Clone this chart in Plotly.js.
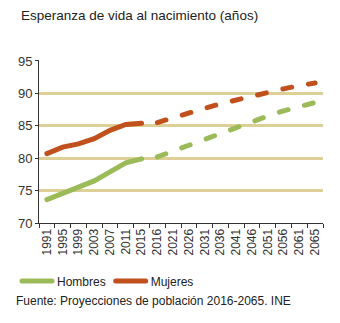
<!DOCTYPE html>
<html>
<head>
<meta charset="utf-8">
<script src="https://cdn.plot.ly/plotly-3.0.1.min.js"></script>
<style>
html,body{margin:0;padding:0;background:#fff;}
#chart{width:340px;height:323px;}
</style>
</head>
<body>
<div id="chart"></div>
<script>
// Categories (x axis)
const years = ["1991","1995","1999","2003","2007","2011","2015","2016","2021","2026","2031","2036","2041","2046","2051","2056","2061","2065"];
const histYears = ["1991","1995","1999","2003","2007","2011","2015"];
const projYears = ["2016","2021","2026","2031","2036","2041","2046","2051","2056","2061","2065"];

// Life expectancy at birth (years)
const hombresHist = [73.6, 74.5, 75.4, 76.5, 77.9, 79.3, 79.9];
const mujeresHist = [80.7, 81.7, 82.2, 83.0, 84.3, 85.2, 85.4];
const hombresProj = [80.2, 81.1, 82.1, 83.1, 84.0, 84.9, 85.7, 86.5, 87.3, 88.0, 88.6];
const mujeresProj = [85.5, 86.3, 87.0, 87.7, 88.4, 89.0, 89.6, 90.2, 90.7, 91.2, 91.6];

const cGreen = "#9bbb59";
const cRed = "#c0501c";
const dashPat = "9px,17px";

const traces = [
  {x: histYears, y: hombresHist, name: "Hombres", type: "scatter", mode: "lines",
   line: {color: cGreen, width: 5}, legendgroup: "h", hoverinfo: "skip"},
  {x: histYears, y: mujeresHist, name: "Mujeres", type: "scatter", mode: "lines",
   line: {color: cRed, width: 5}, legendgroup: "m", hoverinfo: "skip"},
  {x: projYears, y: hombresProj, name: "Hombres (proyección)", type: "scatter", mode: "lines",
   line: {color: cGreen, width: 5, dash: dashPat}, showlegend: false, hoverinfo: "skip"},
  {x: projYears, y: mujeresProj, name: "Mujeres (proyección)", type: "scatter", mode: "lines",
   line: {color: cRed, width: 5, dash: dashPat}, showlegend: false, hoverinfo: "skip"}
];

const layout = {
  width: 340, height: 323,
  margin: {l: 39, r: 17, t: 60, b: 100, pad: 0},
  paper_bgcolor: "#fff", plot_bgcolor: "#fff",
  font: {family: "Liberation Sans, Arial, sans-serif", size: 12, color: "#222"},
  title: {text: "Esperanza de vida al nacimiento (años)", x: 21/340, xanchor: "left", xref: "container",
          y: 1 - 15/323, yanchor: "middle", yref: "container",
          font: {family: "Liberation Sans, Arial, sans-serif", size: 13.5, color: "#222"}},
  xaxis: {type: "category", categoryorder: "array", categoryarray: years, tickvals: years,
          range: [-0.5, years.length - 0.5], tickson: "boundaries", ticks: "outside", ticklen: 4,
          tickcolor: "#333", tickwidth: 1, showline: true, linecolor: "#333", linewidth: 1,
          showgrid: false, zeroline: false, tickangle: -90,
          tickfont: {size: 12, color: "#333"}, fixedrange: true},
  yaxis: {range: [70, 95.15], tickvals: [70, 75, 80, 85, 90, 95], ticks: "outside", ticklen: 3,
          tickcolor: "#333", showline: true, linecolor: "#333", linewidth: 1,
          showgrid: true, gridcolor: "#ddcf96", gridwidth: 3, zeroline: false,
          tickfont: {size: 13, color: "#333"}, fixedrange: true},
  showlegend: true,
  legend: {orientation: "h", x: 17/340, xref: "container", xanchor: "left",
           y: 1 - 281/323, yref: "container", yanchor: "middle",
           font: {size: 12, color: "#222"}, itemwidth: 30, tracegroupgap: 0, bgcolor: "rgba(0,0,0,0)"},
  annotations: [
    {text: "Fuente: Proyecciones de población 2016-2065. INE", xref: "paper", yref: "paper",
     x: -25/284, xanchor: "left", y: -(300.5 - 222.7)/162.7, yanchor: "middle", showarrow: false,
     font: {size: 12, color: "#222"}}
  ]
};

Plotly.newPlot("chart", traces, layout, {staticPlot: true, displayModeBar: false}).then(function(){
  document.querySelectorAll(".scatterlayer .js-line, .legend .js-line").forEach(function(p){
    p.style.strokeLinecap = "round";
  });
});
</script>
</body>
</html>
